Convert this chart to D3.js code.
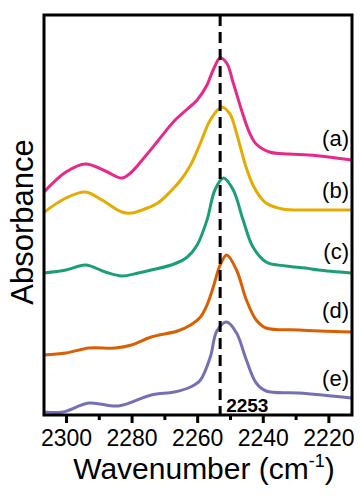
<!DOCTYPE html>
<html>
<head>
<meta charset="utf-8">
<script src="https://cdn.jsdelivr.net/npm/d3@7"></script>
<style>
  body { margin: 0; background: #fff; }
  text { font-family: Arial, "Liberation Sans", sans-serif; }
</style>
</head>
<body>
<script>
// spectra: [wavenumber, absorbance (offset, a.u.)]
const spec_a = [[2307,2.22],[2300,2.43],[2294,2.51],[2288,2.44],[2283,2.37],[2280,2.43],[2276,2.58],[2272,2.74],[2267,2.94],[2263,3.06],[2260,3.15],[2257,3.30],[2255,3.46],[2253,3.57],[2251,3.52],[2249,3.32],[2246,3.00],[2244,2.82],[2242,2.71],[2238,2.63],[2232,2.61],[2226,2.60],[2220,2.58],[2213,2.55]];
const spec_b = [[2307,2.02],[2300,2.17],[2294,2.23],[2289,2.15],[2283,2.03],[2280,2.02],[2276,2.06],[2272,2.12],[2268,2.24],[2265,2.35],[2262,2.50],[2259,2.72],[2256,2.95],[2252.5,3.08],[2250,3.01],[2249,2.93],[2247,2.70],[2245,2.47],[2243,2.30],[2241,2.19],[2239,2.12],[2234,2.06],[2225,2.05],[2213,2.05]];
const spec_c = [[2307,1.42],[2300,1.45],[2294,1.50],[2288,1.43],[2283,1.39],[2278,1.42],[2274,1.45],[2267,1.51],[2263,1.58],[2260,1.70],[2257,1.95],[2254.6,2.25],[2252,2.37],[2249,2.25],[2246,1.95],[2243,1.68],[2239,1.53],[2233,1.49],[2227,1.47],[2223,1.45],[2213,1.42]];
const spec_d = [[2307,0.60],[2300,0.62],[2293,0.67],[2285,0.67],[2280,0.70],[2274,0.78],[2266,0.84],[2262,0.90],[2259,0.98],[2257,1.10],[2255,1.29],[2253,1.50],[2251,1.60],[2248,1.45],[2245,1.15],[2242,0.95],[2239,0.87],[2229,0.85],[2213,0.83]];
const spec_e = [[2307,0.03],[2301,0.03],[2293,0.12],[2284,0.09],[2274,0.20],[2267,0.23],[2262,0.28],[2259,0.35],[2256,0.58],[2254,0.84],[2251,0.93],[2248,0.82],[2245,0.55],[2242,0.32],[2239,0.24],[2229,0.22],[2213,0.17]];

const series = [spec_a, spec_b, spec_c, spec_d, spec_e];
const labels = ["(a)", "(b)", "(c)", "(d)", "(e)"];
const label_y = [2.69, 2.17, 1.56, 0.97, 0.29];
const colors = ["#e7298a", "#e6ab02", "#1b9e77", "#d95f02", "#7570b3"];
const major_ticks = [2300, 2280, 2260, 2240, 2220];
const minor_ticks = [2290, 2270, 2250, 2230];
const peak = 2253;

const width = 360, height = 496;
const margin = {left: 44, right: 8, top: 15, bottom: 81};
const w = width - margin.left - margin.right;
const h = height - margin.top - margin.bottom;

let svg = d3.select("body").append("svg")
        .attr("width", width)
        .attr("height", height);

let g = svg.append("g")
        .attr("transform", "translate(" + margin.left + "," + margin.top + ")");

let x = d3.scaleLinear().domain([2306.7, 2212.8]).range([0, w]);
let y = d3.scaleLinear().domain([0, 4]).range([h, 0]);

let line = d3.line()
        .x(d => x(d[0]))
        .y(d => y(d[1]))
        .curve(d3.curveCatmullRom.alpha(0.5));

svg.append("clipPath").attr("id", "clip")
   .append("rect").attr("width", w).attr("height", h);

g.append("g").attr("clip-path", "url(#clip)")
  .selectAll("path")
  .data(series)
  .join("path")
  .attr("d", line)
  .attr("fill", "none")
  .attr("stroke", (d, i) => colors[i])
  .attr("stroke-width", 3)
  .attr("stroke-linejoin", "round");

// dashed marker line
g.append("line")
  .attr("x1", x(peak)).attr("x2", x(peak))
  .attr("y1", 0).attr("y2", h)
  .attr("stroke", "black")
  .attr("stroke-width", 3)
  .attr("stroke-dasharray", "11,6");

g.append("text")
  .attr("x", x(peak) + 6)
  .attr("y", h - 3)
  .attr("font-size", 19)
  .attr("font-weight", "bold")
  .text(peak);

g.selectAll(".lbl")
  .data(labels)
  .join("text")
  .attr("class", "lbl")
  .attr("x", w - 3)
  .attr("y", (d, i) => y(label_y[i]))
  .attr("text-anchor", "end")
  .attr("font-size", 22)
  .text(d => d);

// axes
let xaxis = g.append("g")
  .attr("transform", "translate(0," + h + ")")
  .call(d3.axisBottom(x).tickValues(major_ticks).tickSize(8).tickPadding(7).tickFormat(d3.format("d")));
xaxis.select(".domain").remove();
xaxis.selectAll("line").attr("stroke-width", 3);
xaxis.selectAll("text").attr("font-size", 23).attr("fill", "#000")
  .style("font-family", "Arial, 'Liberation Sans', sans-serif");

let xminor = g.append("g")
  .attr("transform", "translate(0," + h + ")")
  .call(d3.axisBottom(x).tickValues(minor_ticks).tickSize(5).tickFormat(""));
xminor.select(".domain").remove();
xminor.selectAll("text").remove();
xminor.selectAll("line").attr("stroke-width", 3);

g.append("rect")
  .attr("width", w).attr("height", h)
  .attr("fill", "none")
  .attr("stroke", "black")
  .attr("stroke-width", 3);

let xt = svg.append("text")
  .attr("x", 204)
  .attr("y", 479)
  .attr("text-anchor", "middle")
  .attr("font-size", 30);
xt.append("tspan").text("Wavenumber (cm");
xt.append("tspan").attr("font-size", 18).attr("dy", -12).text("-1");
xt.append("tspan").attr("dy", 12).text(")");

svg.append("text")
  .attr("transform", "translate(33,222) rotate(-90)")
  .attr("text-anchor", "middle")
  .attr("font-size", 31)
  .text("Absorbance");
</script>
</body>
</html>
